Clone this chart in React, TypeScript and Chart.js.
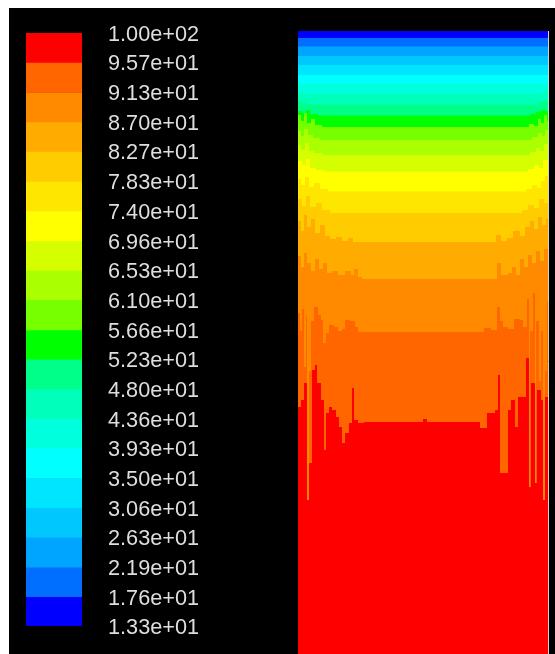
import { useEffect, useRef } from 'react';
import { Chart, registerables } from 'chart.js';

Chart.register(...registerables);

// Contour levels, top of the colour bar first
const LEVELS = [100, 95.7, 91.3, 87.0, 82.7, 78.3, 74.0, 69.6, 65.3, 61.0, 56.6, 52.3, 48.0, 43.6, 39.3, 35.0, 30.6, 26.3, 21.9, 17.6, 13.3];

// One colour per band, highest band first
const BAND_COLORS = [
  '#ff0000', '#ff6600', '#ff8a00', '#ffab00', '#ffcc00',
  '#ffe600', '#ffff00', '#d5ff00', '#aaff00', '#77ff00',
  '#00ff00', '#00ff88', '#00ffbb', '#00ffdd', '#00ffff',
  '#00e5ff', '#00c8ff', '#00a5ff', '#006eff', '#0000ff',
];

// Domain: x = 0..250 across the section, depth = 0..660 from the top wall
const X_MAX = 250;
const DEPTH_MAX = 660;

// Iso-lines as runs: [x where the run starts, depth]
const TOP_EDGE = [[0, 0], [250, 0]];
const ISO_17_6 = [[0, 7], [250, 7]];
const ISO_21_9 = [[0, 15.5], [250, 15.5]];
const ISO_26_3 = [[0, 25], [250, 25]];
const ISO_30_6 = [[0, 34], [250, 34]];
const ISO_35_0 = [[0, 44], [250, 44]];
const ISO_39_3 = [[0, 52.5], [250, 52.5]];
const ISO_43_6 = [[0, 61], [5, 63], [245, 61], [250, 61]];
const ISO_48_0 = [[0, 70], [4, 72], [9, 73.5], [241, 71], [246, 70], [250, 70]];
const ISO_52_3 = [[0, 80], [4, 82], [8, 79], [12, 83], [20, 84.5], [232, 83], [238, 81], [243, 79], [247, 80], [250, 80]];
const ISO_56_6 = [[0, 84], [3, 90], [6, 82], [9, 92], [13, 88], [17, 94], [24, 96], [231, 93], [236, 95], [240, 88], [243, 92], [246, 84], [249, 90], [250, 90]];
const ISO_61_0 = [[0, 100], [3, 105], [6, 98], [10, 104], [15, 107], [22, 109], [234, 106], [240, 102], [244, 105], [247, 99], [250, 99]];
const ISO_65_3 = [[0, 114], [3, 119], [7, 112], [11, 120], [16, 122], [25, 124], [232, 121], [238, 117], [242, 120], [246, 113], [250, 113]];
const ISO_69_6 = [[0, 130], [4, 134], [8, 128], [12, 137], [18, 139], [26, 140.5], [230, 138], [236, 134], [241, 137], [245, 129], [250, 129]];
const ISO_74_0 = [[0, 148], [3, 154], [7, 146], [11, 156], [16, 152], [22, 158], [30, 160.5], [228, 158], [234, 154], [239, 157], [243, 150], [247, 145], [250, 145]];
const ISO_78_3 = [[0, 168], [4, 175], [8, 165], [12, 176], [18, 172], [24, 179], [32, 182], [224, 179], [230, 174], [236, 177], [241, 168], [246, 172], [250, 172]];
const ISO_82_7 = [[0, 190], [3, 200], [6, 184], [9, 196], [13, 188], [17, 202], [22, 194], [27, 205], [32, 208], [38, 206], [44, 210], [50, 207], [55, 211], [198, 204], [203, 210], [209, 207], [215, 200], [222, 205], [227, 196], [232, 190], [236, 198], [240, 186], [244, 194], [248, 188], [250, 188]];
const ISO_87_0 = [[0, 225], [3, 236], [6, 222], [9, 232], [13, 240], [17, 228], [21, 238], [25, 232], [29, 242], [34, 240], [40, 244], [47, 240], [53, 244], [56, 238], [60, 246], [64, 248], [199, 232], [203, 244], [210, 242], [214, 236], [218, 244], [222, 228], [226, 236], [230, 224], [234, 232], [238, 220], [242, 230], [246, 218], [250, 218]];
const ISO_91_3 = [[0, 282], [2, 300], [4, 278], [6, 336], [8, 285], [9, 469], [11, 340], [13, 290], [16, 276], [20, 284], [23, 289], [25, 312], [28, 302], [31, 294], [36, 296], [40, 300], [44, 298], [47, 289], [52, 290], [57, 296], [60, 301], [186, 297], [193, 299], [199, 276], [202, 290], [205, 296], [210, 298], [216, 288], [222, 289], [225, 296], [229, 268], [231, 456], [232, 300], [235, 262], [237, 452], [238, 290], [241, 350], [243, 300], [245, 469], [247, 340], [249, 270], [250, 270]];
const ISO_95_7 = [[0, 376], [3, 369], [6, 352], [9, 469], [11, 432], [14, 339], [17, 334], [19, 352], [23, 369], [26, 419], [28, 382], [31, 376], [34, 379], [38, 386], [41, 396], [44, 412], [47, 402], [51, 392], [54, 357], [56, 389], [60, 392], [66, 391], [125, 388], [129, 391], [182, 397], [189, 382], [197, 379], [200, 344], [202, 442], [210, 379], [213, 369], [217, 396], [220, 366], [228, 327], [231, 456], [233, 352], [237, 452], [239, 359], [243, 369], [245, 469], [247, 366], [250, 366]];

// Upper edge of each band, highest band first
const BAND_TOPS = [
  ISO_95_7, ISO_91_3, ISO_87_0, ISO_82_7, ISO_78_3, ISO_74_0, ISO_69_6,
  ISO_65_3, ISO_61_0, ISO_56_6, ISO_52_3, ISO_48_0, ISO_43_6, ISO_39_3,
  ISO_35_0, ISO_30_6, ISO_26_3, ISO_21_9, ISO_17_6, TOP_EDGE,
];

const LABEL_COLOR = '#dedede';
const FRAME_SIDE = '#d2d2d2';
const FRAME_TOP = '#c8c8f0';

function levelLabel(v: number): string {
  return v.toExponential(2).replace(/e([+-])(\d)$/, 'e$10$2');
}

export default function App() {
  const barRef = useRef<HTMLCanvasElement>(null);
  const plotRef = useRef<HTMLCanvasElement>(null);

  useEffect(() => {
    const colorBar = new Chart(barRef.current!, {
      type: 'bar',
      data: {
        labels: [''],
        datasets: BAND_COLORS.map((c, j) => ({
          data: [[LEVELS[j + 1], LEVELS[j]]] as any,
          backgroundColor: c,
          borderWidth: 0,
          grouped: false,
          categoryPercentage: 1,
          barPercentage: 1,
        })),
      },
      options: {
        responsive: false,
        animation: false,
        layout: { padding: { top: 50, bottom: 50, left: 0, right: 0 } },
        plugins: { legend: { display: false }, tooltip: { enabled: false } },
        scales: {
          x: { display: false },
          y: {
            type: 'linear',
            position: 'right',
            min: LEVELS[LEVELS.length - 1],
            max: LEVELS[0],
            afterBuildTicks: (axis: any) => {
              axis.ticks = LEVELS.map((v) => ({ value: v }));
            },
            afterFit: (axis: any) => {
              axis.width = 120;
            },
            grid: { display: false, drawTicks: false },
            border: { display: false },
            ticks: {
              autoSkip: false,
              padding: 26,
              labelOffset: 2,
              color: LABEL_COLOR,
              font: { family: "'Liberation Sans', Arial, sans-serif", size: 21.7 },
              callback: (v: any) => levelLabel(Number(v)),
            },
          },
        },
      },
    });

    const contour = new Chart(plotRef.current!, {
      type: 'line',
      data: {
        datasets: BAND_TOPS.map((run, j) => ({
          data: run.map(([x, d]) => ({ x, y: d })),
          backgroundColor: BAND_COLORS[j],
          borderColor: 'transparent',
          borderWidth: 0,
          pointRadius: 0,
          stepped: true,
          fill: { value: DEPTH_MAX },
        })),
      },
      options: {
        responsive: false,
        animation: false,
        layout: { padding: { top: 1, left: 1, right: 1, bottom: 0 } },
        plugins: { legend: { display: false }, tooltip: { enabled: false } },
        scales: {
          x: { type: 'linear', display: false, min: 0, max: X_MAX },
          xTop: {
            type: 'linear',
            position: 'top',
            min: 0,
            max: X_MAX,
            ticks: { display: false },
            grid: { display: false, drawTicks: false },
            border: { display: true, color: FRAME_TOP, width: 1 },
          },
          y: {
            type: 'linear',
            position: 'left',
            reverse: true,
            min: 0,
            max: DEPTH_MAX,
            ticks: { display: false },
            grid: { display: false, drawTicks: false },
            border: { display: true, color: FRAME_SIDE, width: 1 },
          },
          yRight: {
            type: 'linear',
            position: 'right',
            reverse: true,
            min: 0,
            max: DEPTH_MAX,
            ticks: { display: false },
            grid: { display: false, drawTicks: false },
            border: { display: true, color: FRAME_SIDE, width: 1 },
          },
        },
      },
    });

    return () => {
      colorBar.destroy();
      contour.destroy();
    };
  }, []);

  return (
    <div style={{ position: 'fixed', left: 0, top: 0, width: 555, height: 654, overflow: 'hidden', background: '#fff' }}>
      <div style={{ position: 'absolute', left: 9, top: 8, width: 546, height: 646, background: '#000' }} />
      <canvas ref={barRef} width={176} height={693} style={{ position: 'absolute', left: 26, top: -17 }} />
      <canvas ref={plotRef} width={252} height={661} style={{ position: 'absolute', left: 297, top: 30 }} />
    </div>
  );
}
